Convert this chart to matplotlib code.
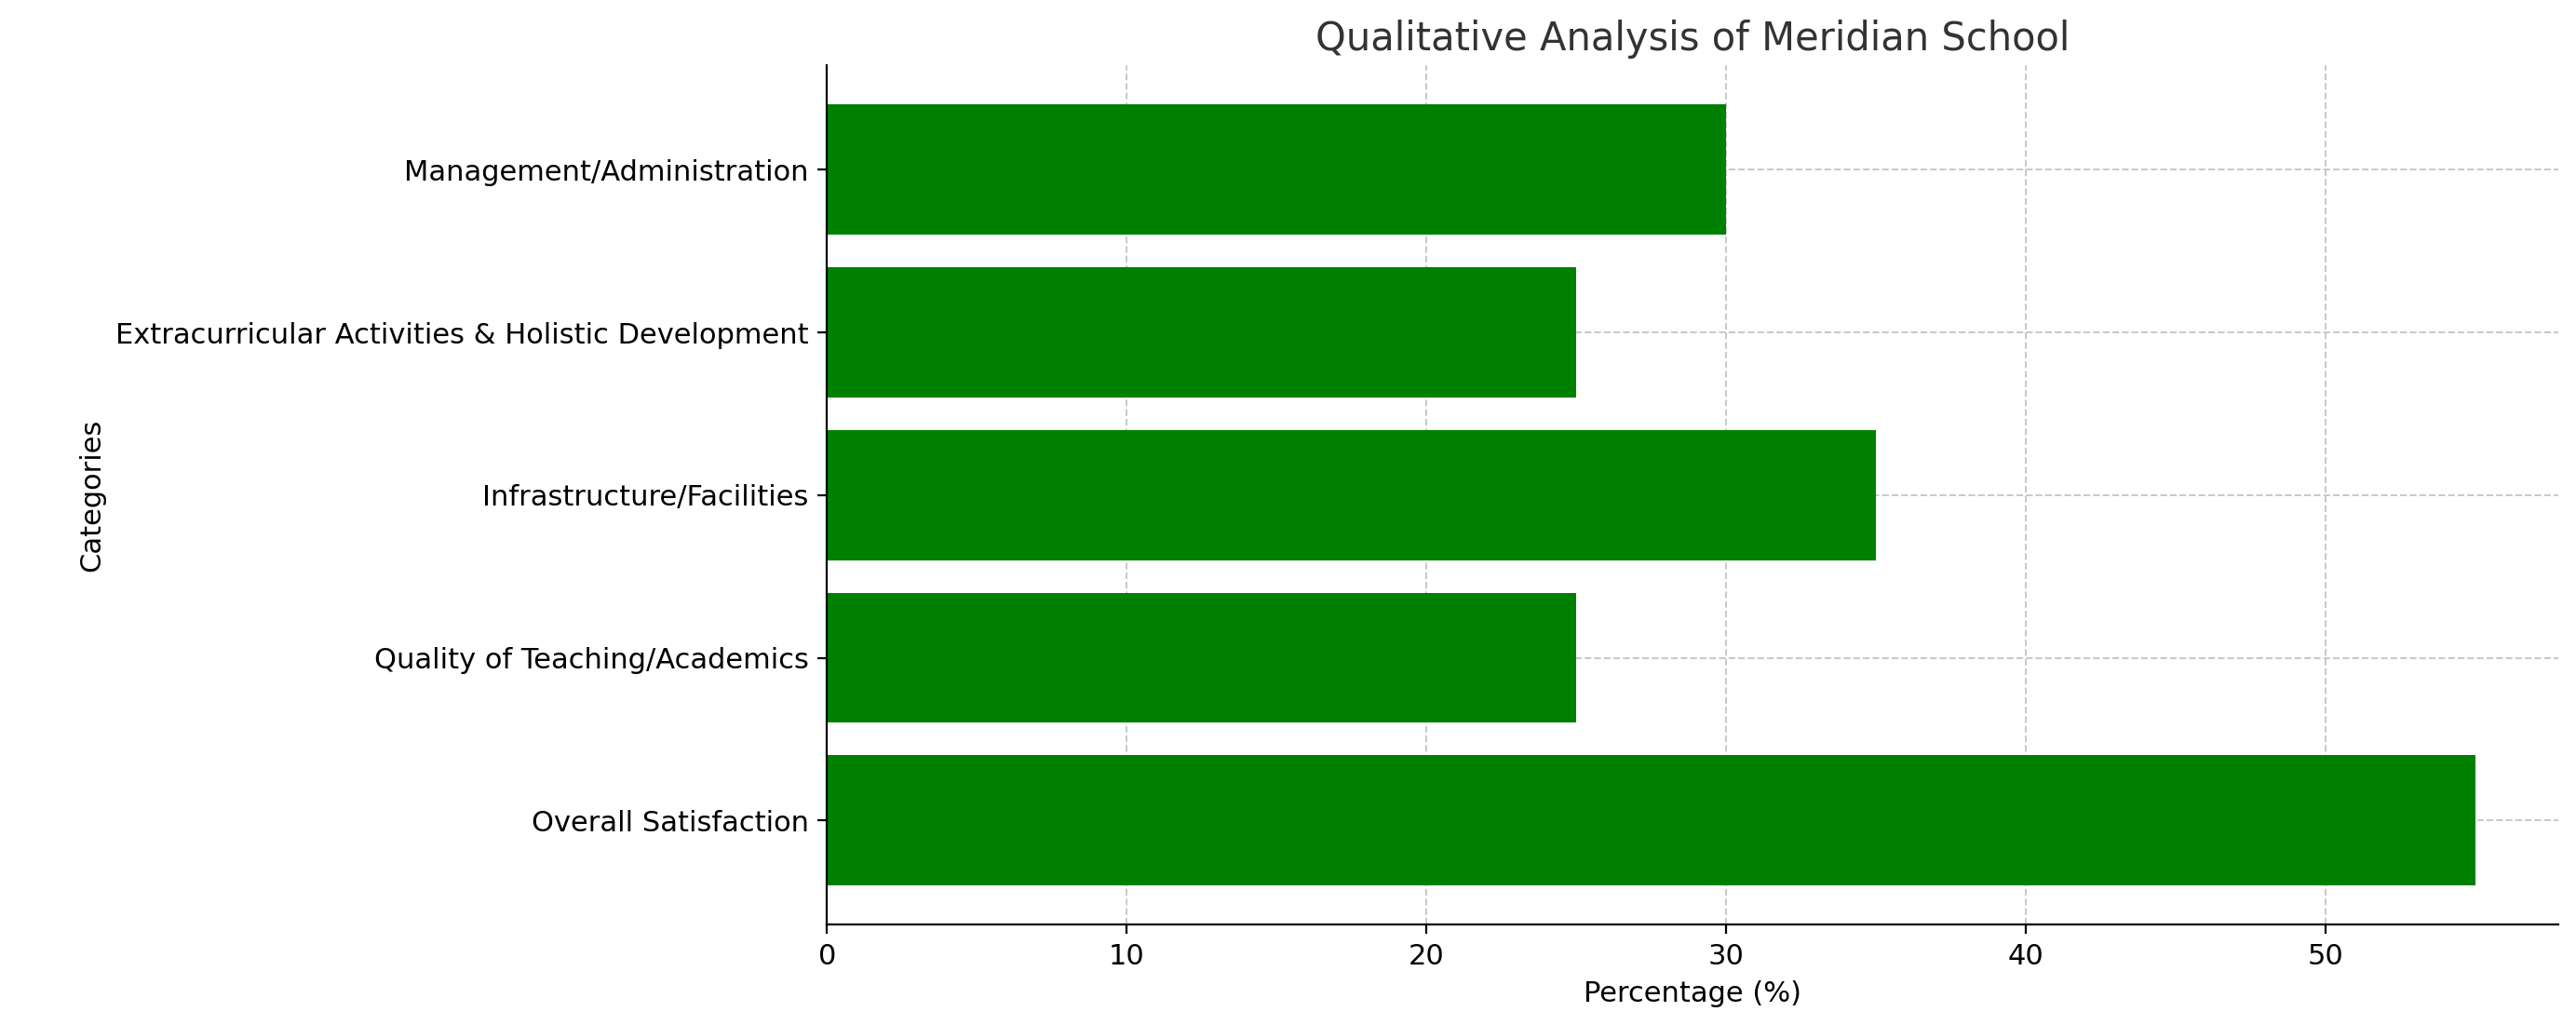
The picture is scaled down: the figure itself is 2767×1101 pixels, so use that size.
import matplotlib.pyplot as plt

categories = ['Overall Satisfaction', 'Quality of Teaching/Academics', 'Infrastructure/Facilities',
              'Extracurricular Activities & Holistic Development', 'Management/Administration']
percentages = [55, 25, 35, 25, 30]

fig = plt.figure(figsize=(13.835, 5.505), dpi=200)
ax = fig.add_axes([0.321, 0.098, 0.672, 0.838])
ax.barh(categories, percentages, color='green', height=0.8, zorder=2)
ax.set_xlim(0, 57.75)
ax.grid(True, linestyle='--', color='#c8c8c8', linewidth=0.7, zorder=0)
ax.spines['top'].set_visible(False)
ax.spines['right'].set_visible(False)
ax.tick_params(axis='x', labelsize=11)
ax.tick_params(axis='y', labelsize=11)
ax.set_xlabel('Percentage (%)', fontsize=11)
ax.set_ylabel('Categories', fontsize=11)
ax.set_title('Qualitative Analysis of Meridian School', fontsize=15, color='#333333')
fig.savefig('out.png', dpi=200)
